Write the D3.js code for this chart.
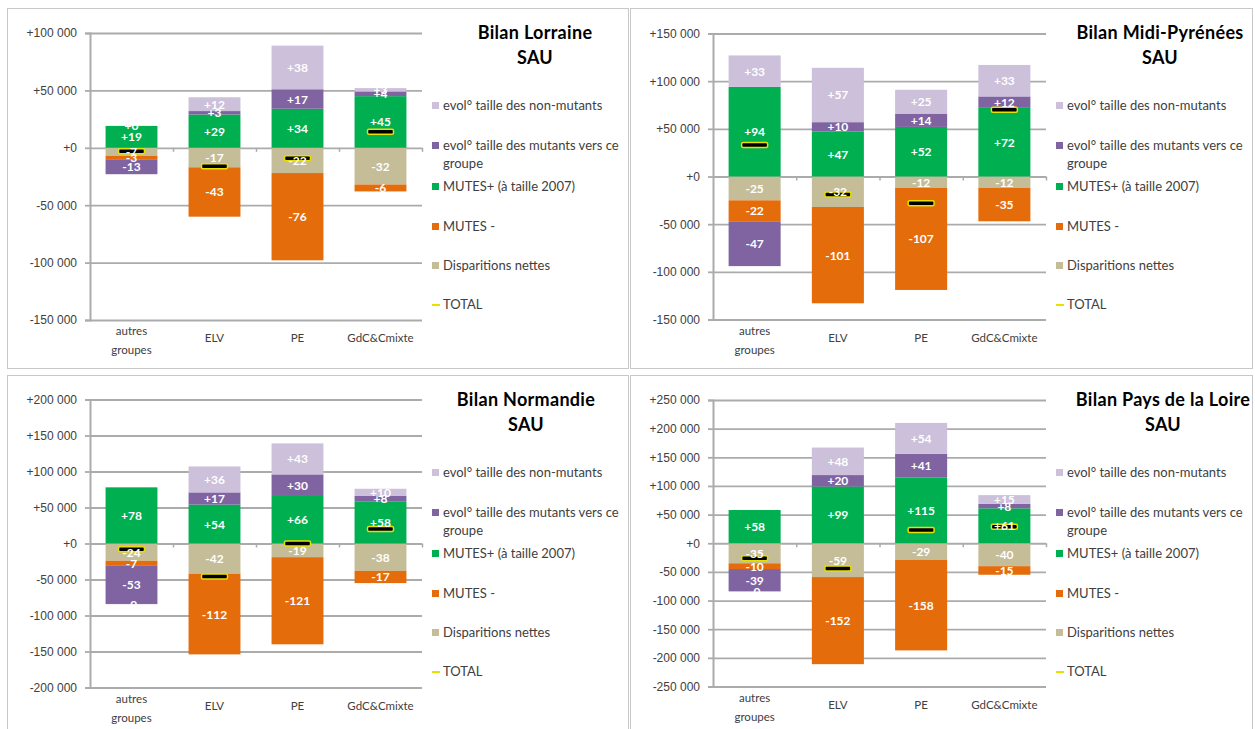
<!DOCTYPE html>
<html>
<head>
<meta charset="utf-8">
<script src="https://cdn.jsdelivr.net/npm/d3@7"></script>
<style>
  body { margin: 0; background: #fff; }
  svg { font-family: Lato, "Liberation Sans", sans-serif; }
  .tick-label { font-size: 12px; fill: #404040; }
  .cat-label { font-size: 11.5px; fill: #404040; }
  .legend-text { font-size: 13px; fill: #404040; }
  .title { font-size: 18px; font-weight: bold; fill: #000; letter-spacing: 0.3px; }
  .value { font-size: 12px; font-weight: bold; fill: #fff; }
</style>
</head>
<body>
<div id="chart"></div>
<script>
// Bilan SAU par region, values in thousands of hectares
let categories = ["autres groupes", "ELV", "PE", "GdC&Cmixte"];

// series order = Excel stacking order
let seriesNames = ["Disparitions nettes", "MUTES -", "MUTES+ (à taille 2007)",
    "evol° taille des mutants vers ce groupe", "evol° taille des non-mutants"];
let seriesColors = ["#C4BD97", "#E46C0A", "#00B050", "#8064A2", "#CCC0DA"];

// Lorraine
let lorraineDisparitions = [-7, -17, -22, -32];
let lorraineMutesMoins = [-3, -43, -76, -6];
let lorraineMutesPlus = [19, 29, 34, 45];
let lorraineEvolMutants = [-13, 3, 17, 4];
let lorraineEvolNonMutants = [0.2, 12, 38, 3];
let lorraineTotal = [-3, -16, -9, 14];
let lorraineTicks = [100000, 50000, 0, -50000, -100000, -150000];

// Midi-Pyrenees
let midiDisparitions = [-25, -32, -12, -12];
let midiMutesMoins = [-22, -101, -107, -35];
let midiMutesPlus = [94, 47, 52, 72];
let midiEvolMutants = [-47, 10, 14, 12];
let midiEvolNonMutants = [33, 57, 25, 33];
let midiTotal = [33, -19, -28, 70];
let midiTicks = [150000, 100000, 50000, 0, -50000, -100000, -150000];

// Normandie
let normandieDisparitions = [-24, -42, -19, -38];
let normandieMutesMoins = [-7, -112, -121, -17];
let normandieMutesPlus = [78, 54, 66, 58];
let normandieEvolMutants = [-53, 17, 30, 8];
let normandieEvolNonMutants = [-0.4, 36, 43, 10];
let normandieTotal = [-8, -46, 0, 20];
let normandieTicks = [200000, 150000, 100000, 50000, 0, -50000, -100000, -150000, -200000];

// Pays de la Loire
let loireDisparitions = [-35, -59, -29, -40];
let loireMutesMoins = [-10, -152, -158, -15];
let loireMutesPlus = [58, 99, 115, 61];
let loireEvolMutants = [-39, 20, 41, 8];
let loireEvolNonMutants = [-0.3, 48, 54, 15];
let loireTotal = [-26, -44, 23, 29];
let loireTicks = [250000, 200000, 150000, 100000, 50000, 0, -50000, -100000, -150000, -200000, -250000];

let width = 1255;
let height = 729;

// panel layout (position of frame, plot area, title)
let panels = [
    { name: "Bilan Lorraine", series: [lorraineDisparitions, lorraineMutesMoins, lorraineMutesPlus, lorraineEvolMutants, lorraineEvolNonMutants],
      total: lorraineTotal, ticks: lorraineTicks,
      frame: [7, 8, 621, 360], plot: [90, 422, 33, 320], titleX: 535 },
    { name: "Bilan Midi-Pyrénées", series: [midiDisparitions, midiMutesMoins, midiMutesPlus, midiEvolMutants, midiEvolNonMutants],
      total: midiTotal, ticks: midiTicks,
      frame: [630, 8, 622, 360], plot: [713, 1046, 33.5, 319.5], titleX: 1160 },
    { name: "Bilan Normandie", series: [normandieDisparitions, normandieMutesMoins, normandieMutesPlus, normandieEvolMutants, normandieEvolNonMutants],
      total: normandieTotal, ticks: normandieTicks,
      frame: [7, 375, 621, 360], plot: [90, 422, 399.5, 687.5], titleX: 526 },
    { name: "Bilan Pays de la Loire", series: [loireDisparitions, loireMutesMoins, loireMutesPlus, loireEvolMutants, loireEvolNonMutants],
      total: loireTotal, ticks: loireTicks,
      frame: [630, 375, 622, 360], plot: [713, 1046, 400, 686.5], titleX: 1163 }
];

let svg = d3.select("#chart")
    .append("svg")
    .attr("width", width)
    .attr("height", height);

// "+100 000" style
let formatTick = function (v) {
    let s = d3.format(",")(Math.abs(v)).replace(/,/g, " ");
    return (v < 0 ? "-" : "+") + s;
};
let formatValue = function (v) {
    return (v < 0 ? "-" : "+") + Math.abs(Math.round(v));
};

let gridColor = "#ABABAB";

panels.forEach(function (p) {
    let g = svg.append("g");
    let [px0, px1, py0, py1] = p.plot;

    // frame
    g.append("rect")
        .attr("x", p.frame[0] + 0.5)
        .attr("y", p.frame[1] + 0.5)
        .attr("width", p.frame[2])
        .attr("height", p.frame[3])
        .attr("fill", "none")
        .attr("stroke", "#C8C8C8")
        .attr("stroke-width", 1);

    let xScale = d3.scaleBand()
        .domain(categories)
        .range([px0, px1])
        .paddingInner(0.375)
        .paddingOuter(0.1875);

    let yScale = d3.scaleLinear()
        .domain([p.ticks[p.ticks.length - 1], p.ticks[0]])
        .range([py1, py0]);

    // gridlines
    let grid = g.append("g")
        .attr("transform", "translate(" + px0 + ",0)")
        .call(d3.axisLeft(yScale).tickValues(p.ticks).tickSize(-(px1 - px0)).tickFormat(""));
    grid.select(".domain").remove();
    grid.selectAll("line").attr("stroke", gridColor).attr("stroke-width", 1.8);

    // y axis
    let yAxis = g.append("g")
        .attr("transform", "translate(" + px0 + ",0)")
        .call(d3.axisLeft(yScale).tickValues(p.ticks).tickSize(5).tickPadding(8).tickFormat(formatTick));
    yAxis.select(".domain").attr("stroke", gridColor).attr("stroke-width", 2);
    yAxis.selectAll("line").attr("stroke", gridColor).attr("stroke-width", 1.8);
    yAxis.selectAll("text").attr("class", "tick-label").attr("font-family", null).attr("font-size", null);

    // category boundary ticks on the zero line
    let boundary = d3.scaleLinear().domain([0, categories.length]).range([px0, px1]);
    let xAxis = g.append("g")
        .attr("transform", "translate(0," + yScale(0) + ")")
        .call(d3.axisBottom(boundary).tickValues(d3.range(1, categories.length + 1)).tickSize(4).tickFormat(""));
    xAxis.select(".domain").remove();
    xAxis.selectAll("line").attr("stroke", gridColor).attr("stroke-width", 1.5);

    // category labels under the plot
    categories.forEach(function (c) {
        let words = c === "autres groupes" ? ["autres", "groupes"] : [c];
        let t = g.append("text")
            .attr("class", "cat-label")
            .attr("text-anchor", "middle")
            .attr("x", xScale(c) + xScale.bandwidth() / 2)
            .attr("y", py1 + (words.length > 1 ? 15 : 22));
        words.forEach(function (w, i) {
            t.append("tspan")
                .attr("x", xScale(c) + xScale.bandwidth() / 2)
                .attr("dy", i === 0 ? 0 : 19)
                .text(w);
        });
    });

    // stack positives up and negatives down in series order
    let segments = [];
    categories.forEach(function (c, ci) {
        let pos = 0, neg = 0;
        p.series.forEach(function (s, si) {
            let v = s[ci];
            let y0, y1;
            if (v >= 0) { y0 = pos; y1 = pos + v; pos = y1; }
            else { y0 = neg; y1 = neg + v; neg = y1; }
            segments.push({ cat: c, series: si, value: v, y0: y0 * 1000, y1: y1 * 1000 });
        });
    });

    g.selectAll("rect.bar")
        .data(segments)
        .enter()
        .append("rect")
        .attr("class", "bar")
        .attr("x", function (d) { return xScale(d.cat); })
        .attr("width", xScale.bandwidth())
        .attr("y", function (d) { return yScale(Math.max(d.y0, d.y1)); })
        .attr("height", function (d) { return Math.abs(yScale(d.y0) - yScale(d.y1)); })
        .attr("fill", function (d) { return seriesColors[d.series]; });

    // TOTAL markers
    g.selectAll("rect.total")
        .data(p.total)
        .enter()
        .append("rect")
        .attr("class", "total")
        .attr("x", function (d, i) { return xScale(categories[i]) + xScale.bandwidth() / 2 - 13; })
        .attr("y", function (d) { return yScale(d * 1000) - 2.5; })
        .attr("width", 26)
        .attr("height", 5)
        .attr("rx", 1.5)
        .attr("fill", "#000")
        .attr("stroke", "#E8E000")
        .attr("stroke-width", 1.5);

    // value labels
    g.selectAll("text.value")
        .data(segments)
        .enter()
        .append("text")
        .attr("class", "value")
        .attr("text-anchor", "middle")
        .attr("dominant-baseline", "central")
        .attr("x", function (d) { return xScale(d.cat) + xScale.bandwidth() / 2; })
        .attr("y", function (d) { return yScale((d.y0 + d.y1) / 2); })
        .text(function (d) { return formatValue(d.value); });

    // title
    let title = g.append("text")
        .attr("class", "title")
        .attr("text-anchor", "middle")
        .attr("x", p.titleX)
        .attr("y", p.frame[1] + 31);
    title.append("tspan").attr("x", p.titleX).text(p.name);
    title.append("tspan").attr("x", p.titleX).attr("dy", 25).text("SAU");

    // legend (reverse of series order, then TOTAL)
    let lx = px1 + 10;
    let top = p.frame[1];
    let legendRows = [
        { si: 4, y: 98 },
        { si: 3, y: 138 },
        { si: 2, y: 179 },
        { si: 1, y: 219 },
        { si: 0, y: 258 }
    ];
    legendRows.forEach(function (r) {
        g.append("rect")
            .attr("x", lx)
            .attr("y", top + r.y - 4)
            .attr("width", 7)
            .attr("height", 7)
            .attr("fill", seriesColors[r.si]);
        let name = seriesNames[r.si];
        let lines = r.si === 3 ? ["evol° taille des mutants vers ce", "groupe"] : [name];
        lines.forEach(function (line, i) {
            g.append("text")
                .attr("class", "legend-text")
                .attr("x", lx + 11)
                .attr("y", top + r.y + 4 + i * 18)
                .text(line);
        });
    });
    g.append("line")
        .attr("x1", lx)
        .attr("x2", lx + 8)
        .attr("y1", top + 297)
        .attr("y2", top + 297)
        .attr("stroke", "#E8E000")
        .attr("stroke-width", 2);
    g.append("text")
        .attr("class", "legend-text")
        .attr("x", lx + 11)
        .attr("y", top + 301)
        .text("TOTAL");
});
</script>
</body>
</html>
